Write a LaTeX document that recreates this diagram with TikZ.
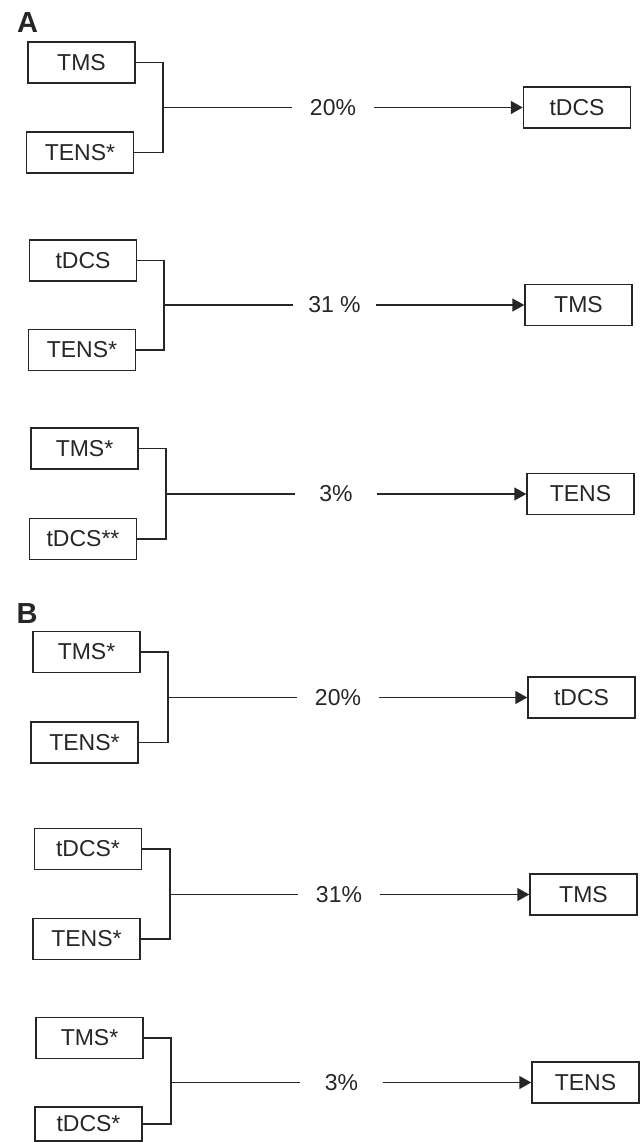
\documentclass[tikz,border=0pt]{standalone}
\usepackage{fontspec}
\setmainfont{Liberation Sans}
\usetikzlibrary{arrows.meta}
\colorlet{ink}{black!85}
\tikzset{
	box/.style={rectangle,draw=ink,line width=1.5pt,text=ink,minimum width=107pt,minimum height=41pt,inner sep=0pt},
	pct/.style={rectangle,text=ink,minimum width=82pt,inner sep=0pt},
	panel/.style={text=ink,font=\fontsize{29}{34}\selectfont\bfseries},
	link/.style={ink,line width=1.5pt},
	>={Triangle[length=12pt,width=13pt]},
	}
\begin{document}
\begin{tikzpicture}[x=1pt,y=-1pt,font=\fontsize{23}{28}\selectfont]
\useasboundingbox (0,0) rectangle (644,1142);
%PANNELLI
\node[panel] (pa) at (27.5,22.5) {A};
\node[panel] (pb) at (27,613.5) {B};
%GRUPPO A1
\node[box] (a1t) at (81.5,62.5) {TMS};
\node[box] (a1b) at (80,152.5) {TENS*};
\coordinate (a1j) at (163,107.5);
\node[pct] (a1p) at (333,107.5) {20\%};
\node[box] (a1o) at (577,107.5) {tDCS};
\draw[link] (a1t) -| (a1j) |- (a1b);
\draw[link] (a1j) -- (a1p);
\draw[link,->] (a1p) -- (a1o);
%GRUPPO A2
\node[box] (a2t) at (83,260.5) {tDCS};
\node[box] (a2b) at (82,350) {TENS*};
\coordinate (a2j) at (164,305);
\node[pct] (a2p) at (334.5,305) {31 \%};
\node[box] (a2o) at (578.5,305) {TMS};
\draw[link] (a2t) -| (a2j) |- (a2b);
\draw[link] (a2j) -- (a2p);
\draw[link,->] (a2p) -- (a2o);
%GRUPPO A3
\node[box] (a3t) at (84.5,448.5) {TMS*};
\node[box] (a3b) at (83,539) {tDCS**};
\coordinate (a3j) at (166,494);
\node[pct] (a3p) at (336,494) {3\%};
\node[box] (a3o) at (580.5,494) {TENS};
\draw[link] (a3t) -| (a3j) |- (a3b);
\draw[link] (a3j) -- (a3p);
\draw[link,->] (a3p) -- (a3o);
%GRUPPO B1
\node[box] (b1t) at (86.5,652) {TMS*};
\node[box] (b1b) at (84.5,742.5) {TENS*};
\coordinate (b1j) at (168,697.5);
\node[pct] (b1p) at (338,697.5) {20\%};
\node[box] (b1o) at (581.5,697.5) {tDCS};
\draw[link] (b1t) -| (b1j) |- (b1b);
\draw[link] (b1j) -- (b1p);
\draw[link,->] (b1p) -- (b1o);
%GRUPPO B2
\node[box] (b2t) at (88,849) {tDCS*};
\node[box] (b2b) at (86.5,939) {TENS*};
\coordinate (b2j) at (170,894.5);
\node[pct] (b2p) at (339,894.5) {31\%};
\node[box] (b2o) at (583.5,894.5) {TMS};
\draw[link] (b2t) -| (b2j) |- (b2b);
\draw[link] (b2j) -- (b2p);
\draw[link,->] (b2p) -- (b2o);
%GRUPPO B3
\node[box] (b3t) at (89.5,1038) {TMS*};
\node[box,minimum height=34pt] (b3b) at (88.5,1124) {tDCS*};
\coordinate (b3j) at (171,1082.5);
\node[pct] (b3p) at (341.5,1082.5) {3\%};
\node[box] (b3o) at (585.5,1082.5) {TENS};
\draw[link] (b3t) -| (b3j) |- (b3b);
\draw[link] (b3j) -- (b3p);
\draw[link,->] (b3p) -- (b3o);
\end{tikzpicture}
\end{document}
